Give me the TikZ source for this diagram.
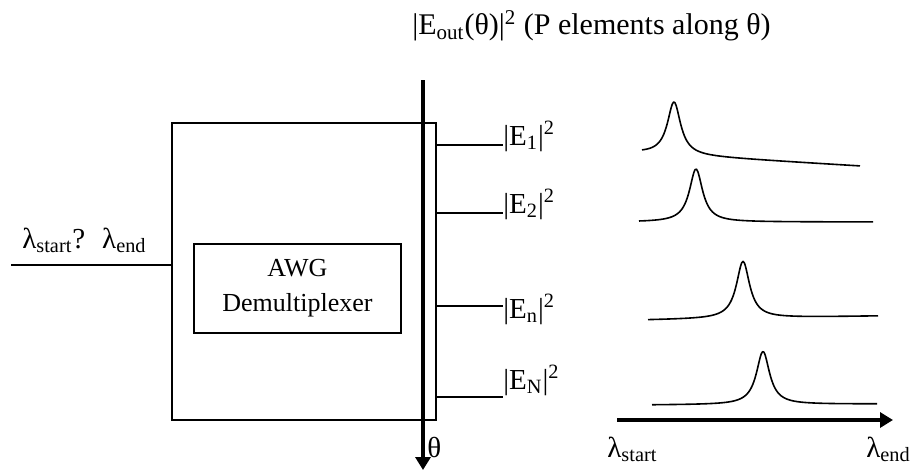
\documentclass[tikz,border=0pt]{standalone}
\usepackage{fontspec}
\setmainfont{Liberation Serif}
\usepackage{tikz}
\usetikzlibrary{arrows.meta,calc,positioning}
\newcommand{\peakcurve}[6]{%
  \draw[curve] plot[domain=#1:#3,samples=180,smooth]
    (\x,{#2+(#4-#2)*(\x-#1)/(#3-#1)-#6/(1+((\x-#5)/8)^2)});}

\begin{document}
\begin{tikzpicture}[x=.5pt,y=-.5pt,
    thinline/.style={line width=.8pt},
    thickarrow/.style={line width=1.7pt,-{Triangle[length=6.5pt,width=7.5pt]}},
    curve/.style={line width=.8pt,line join=round},
    box/.style={draw,line width=.8pt,inner sep=0pt,outer sep=0pt},
    lbl/.style={inner sep=0pt,font=\fontsize{14.5}{17.5}\selectfont}]
      \useasboundingbox (0,0) rectangle (917,473);
      \node[box,minimum width=132pt,minimum height=148.5pt,anchor=north west] (awg) at (172,123) {};
      \node[box,lbl,font=\fontsize{13}{17.5}\selectfont,align=center,
        minimum width=103.5pt,minimum height=44.5pt] (demux) at (297.5,288.5)
        {AWG\\Demultiplexer};
      \coordinate (inL) at (11,265);
      \draw[thinline] (inL) -- (inL -| awg.west);
      \node[lbl,anchor=base west] (inlab) at (22,248) {λ\textsubscript{start}? \ λ\textsubscript{end}};
      \coordinate (ttop) at (423,80);
      \coordinate (tbot) at (423,470);
      \draw[thickarrow] (ttop) -- (tbot);
      \node[lbl,anchor=west] (theta) at (427,447) {θ};
      \node[lbl,font=\fontsize{15}{18}\selectfont,anchor=west] (title) at (412,26)
        {|E\textsubscript{out}(θ)|\textsuperscript{2} (P elements along θ)};
      \foreach \ly/\by/\nm in {145/145/1,213/213/2,306/318/n,397/389/N}{
        \coordinate (o\nm) at (436,\ly);
        \node[lbl,anchor=base west] (l\nm) at (503,\by) {|E\textsubscript{\nm}|\textsuperscript{2}};
        \draw[thinline] (o\nm) -- (o\nm -| l\nm.west);
      }
      \peakcurve{642}{153}{860}{166}{674}{53}
      \peakcurve{639}{222}{873}{222}{696}{53}
      \peakcurve{648}{320}{878}{316}{743}{57}
      \peakcurve{652}{405}{877}{404}{763}{53}
      \coordinate (axs) at (617,420);
      \coordinate (axe) at (893,420);
      \draw[thickarrow] (axs) -- (axe);
      \node[lbl,anchor=base west] (lstart) at (607,457) {λ\textsubscript{start}};
      \node[lbl,anchor=base west] (lend) at (866,457) {λ\textsubscript{end}};
    \end{tikzpicture}
\end{document}
